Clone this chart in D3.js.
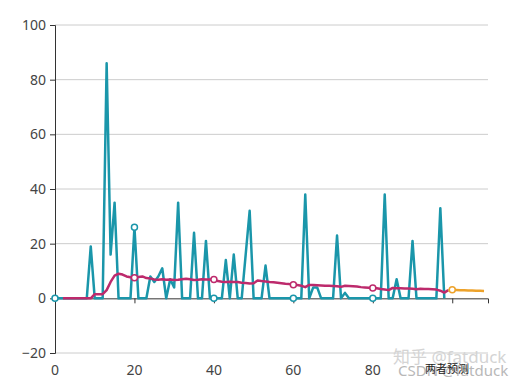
<!DOCTYPE html>
<html>
<head>
<meta charset="utf-8">
<script src="https://cdn.jsdelivr.net/npm/d3@7"></script>
<style>
  body { margin: 0; background: #fff; }
  text { font-family: "Noto Sans", "Noto Sans CJK SC", sans-serif; }
</style>
</head>
<body>
<div id="chart"></div>
<script>
const chart_width = 516;
const chart_height = 386;

// x categories 0..109
const xCount = 110;
const xTicks = [0, 20, 40, 60, 80];
const yTicks = [-20, 0, 20, 40, 60, 80, 100];

// observed series, index 0..98
const actual = [0, 0, 0, 0, 0, 0, 0, 0, 0, 19,
    0, 0, 0, 86, 16, 35, 0, 0, 0, 0,
    26, 0, 0, 0, 8, 6, 8, 11, 0, 7,
    4, 35, 0, 0, 0, 24, 0, 0, 21, 0,
    0, 0, 0, 14, 0, 16, 0, 0, 16, 32,
    0, 0, 0, 12, 0, 0, 0, 0, 0, 0,
    0, 0, 0, 38, 0, 4, 4, 0, 0, 0,
    0, 23, 0, 2, 0, 0, 0, 0, 0, 0,
    0, 0, 0, 38, 0, 0, 7, 0, 0, 0,
    21, 0, 0, 0, 0, 0, 0, 33, 0];

// fitted series, starts at index 2, ends at 99
const fittedStart = 2;
const fitted = [0, 0, 0, 0, 0, 0, 0, 0,
    1.5, 1.5, 1.5, 3, 6, 8.3, 9, 8.7, 8, 7.7,
    7.5, 7.8, 8, 7.4, 7.3, 6.9, 6.8, 7, 6.8, 6.9,
    6.7, 6.8, 7, 7.2, 7, 6.7, 6.8, 7, 6.9, 6.9,
    6.9, 6.3, 6.1, 6, 6.1, 6, 6, 5.7, 5.6, 5.4,
    5.5, 6.5, 6.3, 6.2, 6, 5.9, 5.7, 5.5, 5.3, 5.2,
    5, 4.9, 4.6, 4.1, 4.9, 4.9, 4.8, 4.7, 4.6, 4.6,
    4.5, 4.4, 4.2, 4.6, 4.5, 4.4, 4.3, 4.1, 4, 3.9,
    3.8, 3.7, 3.4, 3.2, 3, 3.8, 3.7, 3.7, 3.6, 3.6,
    3.5, 3.3, 3.5, 3.4, 3.4, 3.3, 3.2, 2.8, 2.1, 3];

// forecast series, index 99..108
const forecastStart = 99;
const forecast = [3, 3.1, 3.05, 3, 2.95, 2.9, 2.85, 2.8, 2.75, 2.7];

const margin = {left: 55, right: 28, top: 25, bottom: 33};

const x = d3.scaleLinear()
    .domain([0, xCount - 1])
    .range([margin.left, chart_width - margin.right]);

const y = d3.scaleLinear()
    .domain([-20, 100])
    .range([chart_height - margin.bottom, margin.top]);

const svg = d3.select("#chart")
    .append("svg")
    .attr("width", chart_width)
    .attr("height", chart_height);

// grid lines
svg.append("g")
    .selectAll("line")
    .data(yTicks.filter(d => d !== 0))
    .enter().append("line")
    .attr("x1", x(0))
    .attr("x2", x(xCount - 1))
    .attr("y1", d => y(d))
    .attr("y2", d => y(d))
    .attr("stroke", "#ccc")
    .attr("stroke-width", 1);

// y axis
const yAxis = svg.append("g")
    .attr("transform", `translate(${x(0)},0)`)
    .call(d3.axisLeft(y).tickValues(yTicks).tickSize(5).tickPadding(4));
yAxis.select(".domain").attr("stroke", "#333");
yAxis.selectAll(".tick line").attr("stroke", "#333");
yAxis.selectAll(".tick text")
    .attr("fill", "#444")
    .style("font-size", "14px");

// x axis line sits on zero
const xAxis = svg.append("g")
    .attr("transform", `translate(0,${y(0)})`)
    .call(d3.axisBottom(x).tickValues([20, 40, 60, 80, 100]).tickSize(5).tickFormat(""));
xAxis.select(".domain").attr("stroke", "#333");
xAxis.selectAll(".tick line").attr("stroke", "#333");

// x labels below the plot
svg.append("g")
    .selectAll("text")
    .data(xTicks)
    .enter().append("text")
    .attr("x", d => x(d))
    .attr("y", y(-20) + 22)
    .attr("text-anchor", "middle")
    .attr("fill", "#444")
    .style("font-size", "14px")
    .text(d => d);

const line = d3.line()
    .x(d => x(d.i))
    .y(d => y(d.v));

const actualPts = actual.map((v, i) => ({i: i, v: v}));
const fittedPts = fitted.map((v, i) => ({i: i + fittedStart, v: v}));
const forecastPts = forecast.map((v, i) => ({i: i + forecastStart, v: v}));

const series = [
    {pts: actualPts, color: "#1a96aa"},
    {pts: fittedPts, color: "#bd2a6c"},
    {pts: forecastPts, color: "#eda22a"}
];

series.forEach(s => {
    svg.append("path")
        .datum(s.pts)
        .attr("fill", "none")
        .attr("stroke", s.color)
        .attr("stroke-width", 2.5)
        .attr("stroke-linejoin", "round")
        .attr("d", line);
});

// symbols every 20 categories
series.forEach(s => {
    svg.append("g")
        .selectAll("circle")
        .data(s.pts.filter(d => d.i % 20 === 0))
        .enter().append("circle")
        .attr("cx", d => x(d.i))
        .attr("cy", d => y(d.v))
        .attr("r", 3)
        .attr("fill", "#fff")
        .attr("stroke", s.color)
        .attr("stroke-width", 1.5);
});

// watermarks (they overlap in the original too)
svg.append("text")
    .attr("x", 393).attr("y", 363)
    .attr("fill", "#d4d4d4")
    .style("font-size", "17px")
    .text("知乎 @fatduck");
svg.append("text")
    .attr("x", 398).attr("y", 376)
    .attr("fill", "#b8b8b8")
    .style("font-size", "15px")
    .text("CSDN @fatduck");
svg.append("text")
    .attr("x", 447).attr("y", 373)
    .attr("text-anchor", "middle")
    .attr("fill", "#222")
    .style("font-size", "11px")
    .text("两者预测");
</script>
</body>
</html>
